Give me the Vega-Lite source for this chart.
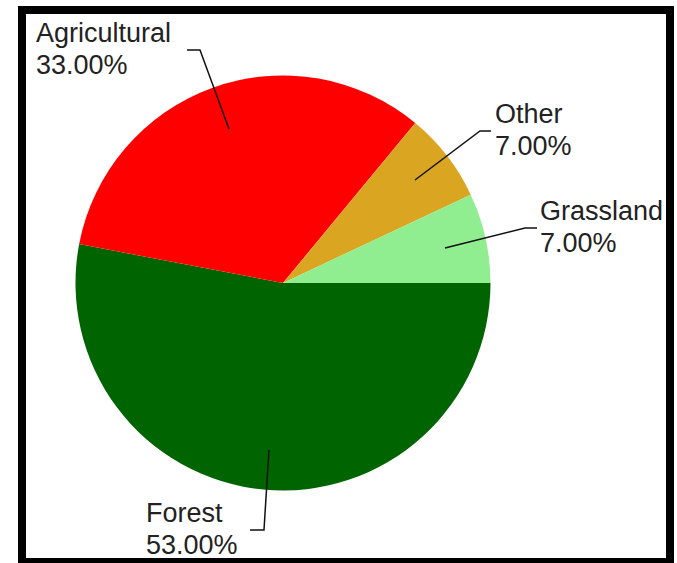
{
  "$schema": "https://vega.github.io/schema/vega-lite/v6.json",
  "width": 648,
  "height": 552,
  "autosize": {"type": "none"},
  "padding": {"left": 22, "top": 10, "right": 7, "bottom": 1},
  "background": "white",
  "config": {
    "view": {"stroke": "black", "strokeWidth": 8},
    "text": {"font": "Liberation Sans"}
  },
  "datasets": {
    "slices": [
      {"category": "Forest", "percent": 53},
      {"category": "Agricultural", "percent": 33},
      {"category": "Other", "percent": 7},
      {"category": "Grassland", "percent": 7}
    ],
    "leaders": [
      {"category": "Agricultural", "step": 0, "x": -0.2602, "y": 0.7422},
      {"category": "Agricultural", "step": 1, "x": -0.4000, "y": 1.1229},
      {"category": "Agricultural", "step": 2, "x": -0.4627, "y": 1.1229},
      {"category": "Other", "step": 0, "x": 0.6361, "y": 0.4964},
      {"category": "Other", "step": 1, "x": 0.9494, "y": 0.7325},
      {"category": "Other", "step": 2, "x": 1.0024, "y": 0.7325},
      {"category": "Grassland", "step": 0, "x": 0.7807, "y": 0.1687},
      {"category": "Grassland", "step": 1, "x": 1.1663, "y": 0.2651},
      {"category": "Grassland", "step": 2, "x": 1.2241, "y": 0.2651},
      {"category": "Forest", "step": 0, "x": -0.0675, "y": -0.8048},
      {"category": "Forest", "step": 1, "x": -0.0916, "y": -1.1904},
      {"category": "Forest", "step": 2, "x": -0.1590, "y": -1.1904}
    ],
    "labels": [
      {"category": "Agricultural", "label": ["Agricultural", "33.00%"], "x": -1.1904, "y": 1.1229},
      {"category": "Other", "label": ["Other", "7.00%"], "x": 1.0217, "y": 0.7325},
      {"category": "Grassland", "label": ["Grassland", "7.00%"], "x": 1.2386, "y": 0.2651},
      {"category": "Forest", "label": ["Forest", "53.00%"], "x": -0.6602, "y": -1.1904}
    ]
  },
  "layer": [
    {
      "data": {"name": "slices"},
      "transform": [{"window": [{"op": "row_number", "as": "idx"}]}],
      "mark": {"type": "arc", "outerRadius": 207.5},
      "encoding": {
        "x": {"datum": 0, "type": "quantitative", "scale": {"domain": [-1.2578, 1.8651], "nice": false, "zero": false}, "axis": null},
        "y": {"datum": 0, "type": "quantitative", "scale": {"domain": [-1.3446, 1.3157], "nice": false, "zero": false}, "axis": null},
        "theta": {"field": "percent", "type": "quantitative", "stack": true, "scale": {"range": [1.5708, 7.854]}},
        "order": {"field": "idx", "type": "quantitative"},
        "color": {
          "field": "category",
          "type": "nominal",
          "scale": {"domain": ["Forest", "Agricultural", "Other", "Grassland"], "range": ["#006400", "#ff0000", "#daa520", "#90ee90"]},
          "legend": null
        }
      }
    },
    {
      "data": {"name": "leaders"},
      "mark": {"type": "line", "color": "#111111", "strokeWidth": 1.5},
      "encoding": {
        "x": {"field": "x", "type": "quantitative", "scale": {"domain": [-1.2578, 1.8651], "nice": false, "zero": false}, "axis": null},
        "y": {"field": "y", "type": "quantitative", "scale": {"domain": [-1.3446, 1.3157], "nice": false, "zero": false}, "axis": null},
        "detail": {"field": "category", "type": "nominal"},
        "order": {"field": "step", "type": "quantitative"}
      }
    },
    {
      "data": {"name": "labels"},
      "mark": {"type": "text", "align": "left", "baseline": "middle", "dy": -16, "fontSize": 27, "lineHeight": 32, "color": "#222222"},
      "encoding": {
        "x": {"field": "x", "type": "quantitative", "scale": {"domain": [-1.2578, 1.8651], "nice": false, "zero": false}, "axis": null},
        "y": {"field": "y", "type": "quantitative", "scale": {"domain": [-1.3446, 1.3157], "nice": false, "zero": false}, "axis": null},
        "text": {"field": "label", "type": "nominal"}
      }
    }
  ]
}
